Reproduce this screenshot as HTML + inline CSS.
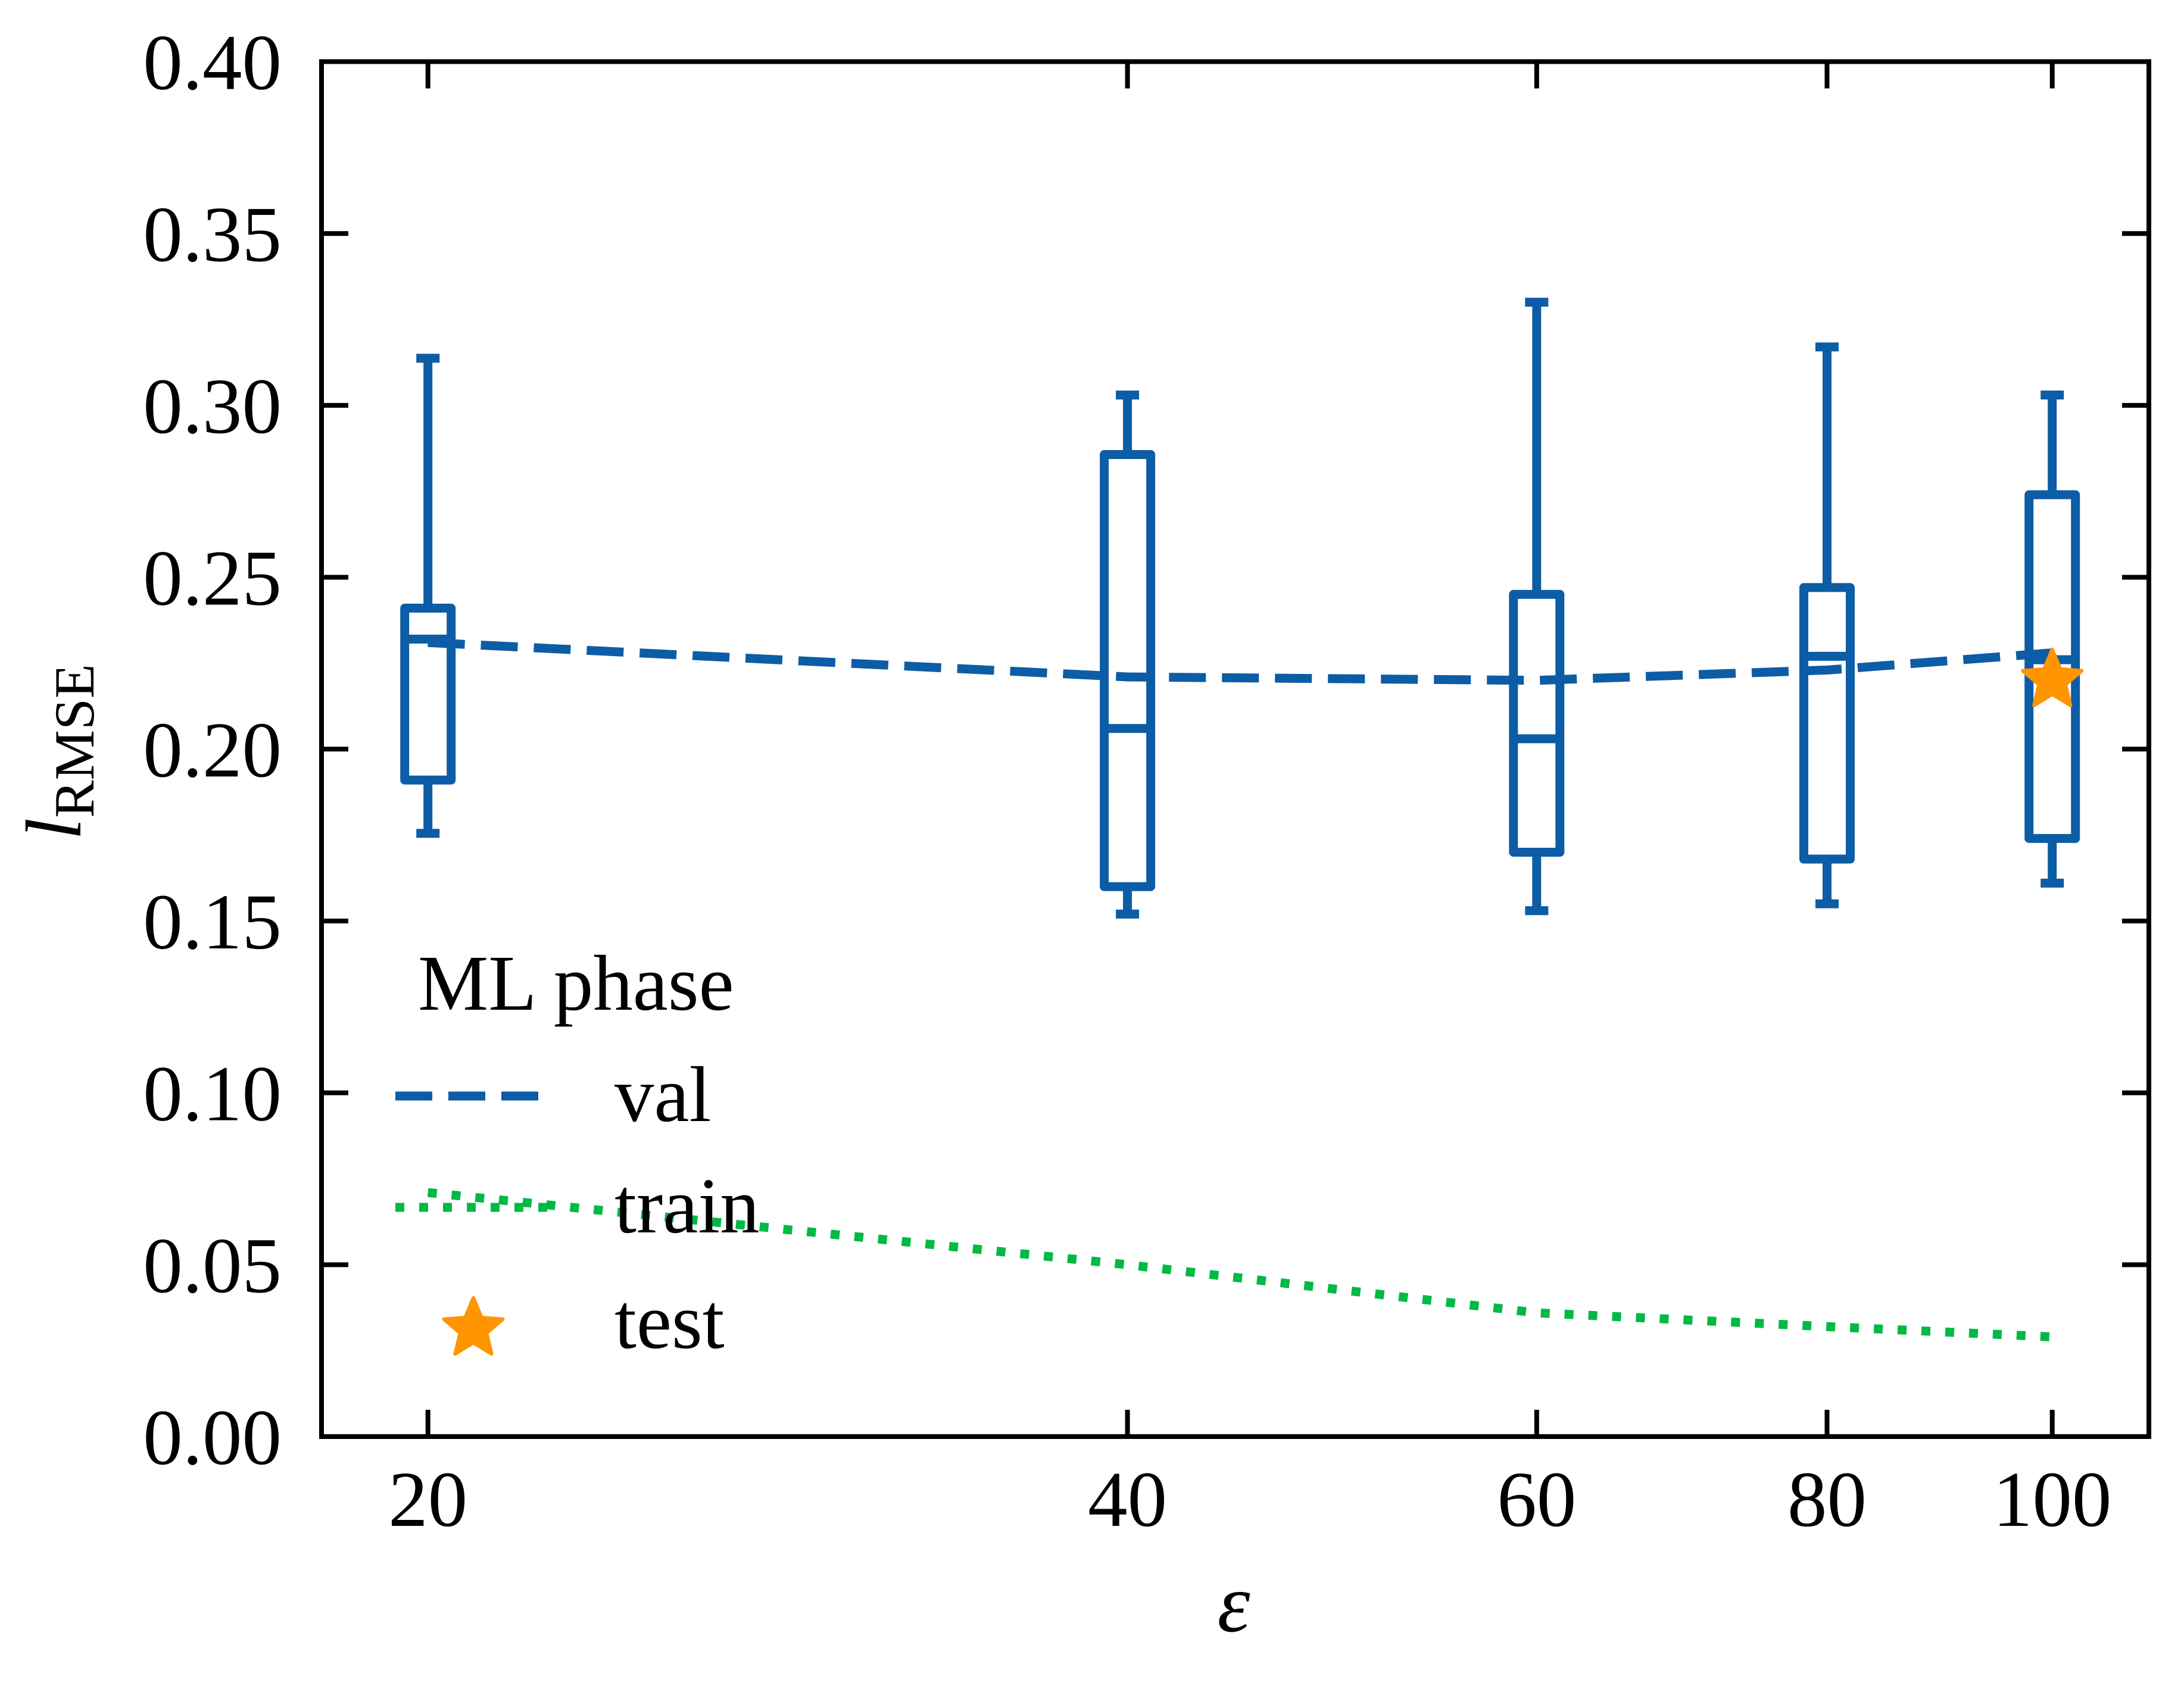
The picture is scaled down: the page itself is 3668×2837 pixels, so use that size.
<!DOCTYPE html>
<html><head><meta charset="utf-8"><style>
html,body{margin:0;padding:0;background:#fff;}
svg{display:block;}
text{font-family:"Liberation Serif",serif;fill:#000;}
</style></head><body>
<svg id="chart" width="3668" height="2837" viewBox="0 0 3668 2837" xmlns="http://www.w3.org/2000/svg">
<g id="plot"></g>
</svg>
<script>
const categories=[20,40,60,80,100];
const whiskerHigh=[0.3137,0.303,0.330,0.317,0.303];
const q3=[0.241,0.2857,0.245,0.247,0.274];
const medians=[0.232,0.206,0.203,0.227,0.226];
const q1=[0.191,0.160,0.170,0.168,0.174];
const whiskerLow=[0.1755,0.152,0.153,0.155,0.161];
const valMeans=[0.231,0.221,0.220,0.223,0.228];
const trainX=[20,40,60,80,100];
const trainVals=[0.071,0.050,0.036,0.032,0.029];
const testX=[100];
const testVals=[0.220];
const yTicks=[0,0.05,0.10,0.15,0.20,0.25,0.30,0.35,0.40];
const yTickLabels=["0.00","0.05","0.10","0.15","0.20","0.25","0.30","0.35","0.40"];
const xTicks=[20,40,60,80,100];
const xTickLabels=["20","40","60","80","100"];

const L=540,R=3609,T=103.5,B=2413;
const X=v=>718.7+(Math.log10(v)-Math.log10(20))/Math.log10(5)*(3446.7-718.7);
const Y=v=>B-v/0.4*(B-T);
const NS="http://www.w3.org/2000/svg";
const g=document.getElementById('plot');
function mk(tag,attrs,parent){const e=document.createElementNS(NS,tag);for(const k in attrs)e.setAttribute(k,attrs[k]);(parent||g).appendChild(e);return e;}
const BLUE="#0c5da5",GREEN="#00b945",ORANGE="#ff9500";
const LW=15;
const DASH='62 27', DOT='15 25';

yTicks.forEach((v,i)=>{
  let t=mk('line',{x1:L,x2:L+45,y1:Y(v),y2:Y(v),stroke:'#000','stroke-width':8});
  
  
  let t2=mk('line',{x1:R-45,x2:R,y1:Y(v),y2:Y(v),stroke:'#000','stroke-width':8});
  
  
  let tx=mk('text',{x:473,y:Y(v)+46,'text-anchor':'end','font-size':133});
  tx.textContent=yTickLabels[i];
  
  
});
xTicks.forEach((v,i)=>{
  let t=mk('line',{x1:X(v),x2:X(v),y1:B-45,y2:B,stroke:'#000','stroke-width':8});
  
  
  let t2=mk('line',{x1:X(v),x2:X(v),y1:T,y2:T+45,stroke:'#000','stroke-width':8});
  
  
  let tx=mk('text',{x:X(v),y:2563,'text-anchor':'middle','font-size':133});
  tx.textContent=xTickLabels[i];
  
  
});

const hw=39;
categories.forEach((c,i)=>{
  const x=X(c);
  const bg=mk('g',{stroke:BLUE,'stroke-width':LW,fill:'none','stroke-linejoin':'round'});
  
  
  mk('line',{x1:x,x2:x,y1:Y(whiskerHigh[i]),y2:Y(q3[i])},bg);
  mk('line',{x1:x,x2:x,y1:Y(q1[i]),y2:Y(whiskerLow[i])},bg);
  mk('line',{x1:x-hw/2,x2:x+hw/2,y1:Y(whiskerHigh[i]),y2:Y(whiskerHigh[i])},bg);
  mk('line',{x1:x-hw/2,x2:x+hw/2,y1:Y(whiskerLow[i]),y2:Y(whiskerLow[i])},bg);
  mk('rect',{x:x-hw,y:Y(q3[i]),width:2*hw,height:Y(q1[i])-Y(q3[i])},bg);
  mk('line',{x1:x-hw,x2:x+hw,y1:Y(medians[i]),y2:Y(medians[i])},bg);
});

let vp=mk('polyline',{points:categories.map((c,i)=>X(c)+','+Y(valMeans[i])).join(' '),fill:'none',stroke:BLUE,'stroke-width':LW,'stroke-dasharray':DASH});


let tp=mk('polyline',{points:trainX.map((c,i)=>X(c)+','+Y(trainVals[i])).join(' '),fill:'none',stroke:GREEN,'stroke-width':LW,'stroke-dasharray':DOT});



function star(cx,cy,r){let p=[];for(let k=0;k<10;k++){const a=-Math.PI/2+k*Math.PI/5;const rr=k%2?r*0.45:r;p.push((cx+rr*Math.cos(a)).toFixed(1)+','+(cy+rr*Math.sin(a)).toFixed(1));}return p.join(' ');}
testX.forEach((c,i)=>{
  let s=mk('polygon',{points:star(X(c),Y(testVals[i]),52),fill:ORANGE,stroke:ORANGE,'stroke-width':6,'stroke-linejoin':'round'});
  
  
});

let fr=mk('rect',{x:L,y:T,width:R-L,height:B-T,fill:'none',stroke:'#000','stroke-width':8});



const lg=mk('g',{});


let lt=mk('text',{x:702,y:1696,'font-size':133},lg);lt.textContent='ML phase';


let l1=mk('line',{x1:664,x2:926,y1:1841,y2:1841,stroke:BLUE,'stroke-width':LW,'stroke-dasharray':DASH},lg);


let t1=mk('text',{x:1032,y:1883,'font-size':133},lg);t1.textContent='val';


let l2=mk('line',{x1:664,x2:926,y1:2028,y2:2028,stroke:GREEN,'stroke-width':LW,'stroke-dasharray':DOT},lg);


let t2=mk('text',{x:1032,y:2070,'font-size':133},lg);t2.textContent='train';


let s2=mk('polygon',{points:star(795,2232,52),fill:ORANGE,stroke:ORANGE,'stroke-width':6,'stroke-linejoin':'round'},lg);


let t3=mk('text',{x:1032,y:2264,'font-size':133},lg);t3.textContent='test';



let xl=mk('text',{x:2072,y:2740,'text-anchor':'middle','font-size':140,'font-style':'italic'});xl.textContent='ε';


let yl=mk('text',{transform:'translate(135,1263) rotate(-90)','text-anchor':'middle','font-size':133});


let ts1=mk('tspan',{'font-style':'italic'},yl);ts1.textContent='l';
let ts2=mk('tspan',{'font-size':95,dy:22},yl);ts2.textContent='RMSE';
</script>
</body></html>
